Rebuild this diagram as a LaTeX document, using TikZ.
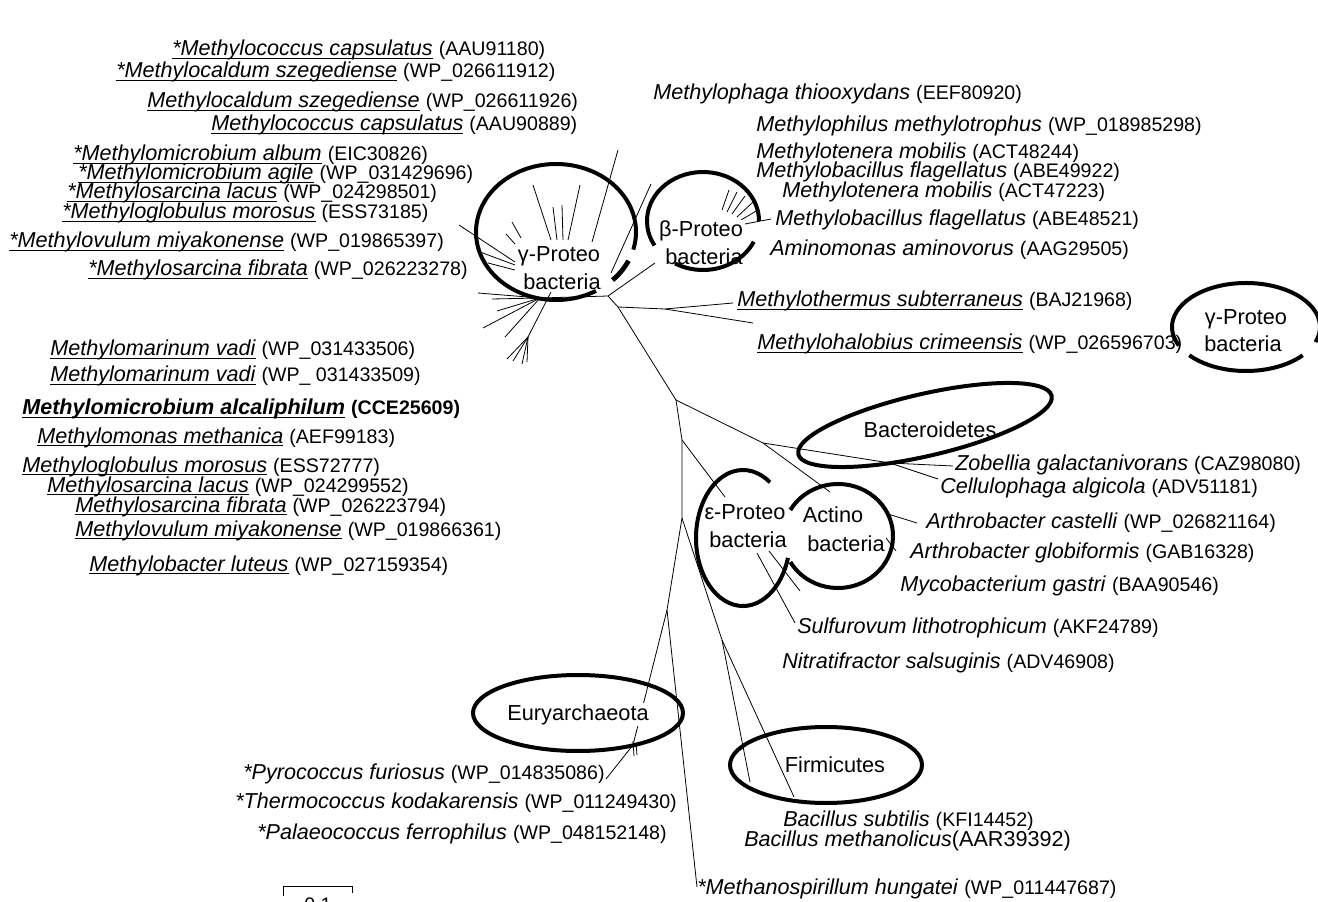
\documentclass[tikz,border=0pt]{standalone}
\usepackage{fontspec}
\setmainfont{Liberation Sans}
\newcommand\undl[1]{\sbox0{#1}\rlap{\rule[-2.4pt]{\wd0}{0.9pt}}\usebox0}
\newcommand\accn[1]{{\fontsize{14.7}{17}\selectfont #1}}
\tikzset{
  lbl/.style={anchor=base west, inner sep=0pt, font=\fontsize{16.2}{19}\selectfont},
  glab/.style={anchor=base, inner sep=1pt, fill=white, font=\fontsize{16.3}{19}\selectfont},
  grp/.style={line width=3pt},
  br/.style={line width=0.6pt},
}
\begin{document}
\begin{tikzpicture}[x=0.75pt,y=-0.75pt]
\useasboundingbox (0,0) rectangle (1318,902);
\clip (0,0) rectangle (1318,902);

% ---------------- tree: internal nodes ----------------
\coordinate (J) at (608,296);
\coordinate (N1) at (618,307);
\coordinate (P1) at (665,309);
\coordinate (A) at (676,400);
\coordinate (B) at (763,443);
\coordinate (Bz) at (890,463);
\coordinate (C) at (682,440);
\coordinate (D) at (682,518);
\coordinate (E) at (667,610);
\coordinate (Eu) at (633,745);
\coordinate (F) at (722,640);
\coordinate (G0) at (540,298);
\coordinate (G1) at (552,290);
\coordinate (G2) at (528,337);
\coordinate (bb) at (655,263);
% tips
\coordinate (tTh) at (733,303);
\coordinate (tHa) at (753,323);
\coordinate (tZo) at (953,466);
\coordinate (tCe) at (938,479);
\coordinate (tAc) at (830,492);
\coordinate (tEp) at (725,497);
\coordinate (tPy) at (606,779);
\coordinate (tMs) at (697,887);
\coordinate (tFa) at (750,782);
\coordinate (tFb) at (794,797);

\draw[br] (G0) -- (J) -- (N1) -- (A);
\draw[br] (J) -- (bb);
\draw[br] (N1) -- (P1) -- (tTh);
\draw[br] (P1) -- (tHa);
\draw[br] (A) -- (B) -- (Bz) -- (tZo);
\draw[br] (Bz) -- (tCe);
\draw[br] (B) -- (tAc);
\draw[br] (A) -- (C) -- (tEp);
\draw[br] (C) -- (D) -- (E) -- (Eu) -- (tPy);
\draw[br] (E) -- (tMs);
\draw[br] (D) -- (F) -- (tFa);
\draw[br] (F) -- (tFb);
\draw[br] (G1) -- (G2);

% gamma cluster inner leaves
\foreach \i/\ax/\ay/\bx/\by in {1/533/185/551/240, 2/553/207/557/240, 3/562/205/563/240,
  4/580/185/568/240, 5/618/150/592/242, 6/512/222/521/238, 7/506/234/515/244,
  8/459/225/515/262, 9/480/252/515/265, 10/488/263/515/270, 11/651/184/611/273}{
  \coordinate (gl\i a) at (\ax,\ay);
  \coordinate (gl\i b) at (\bx,\by);
  \draw[br] (gl\i a) -- (gl\i b);
}
% lower fan
\foreach \i/\ax/\ay in {1/478/293, 2/492/299, 3/497/311, 4/483/328, 5/505/337}{
  \coordinate (fl\i) at (\ax,\ay);
  \draw[br] (G0) -- (fl\i);
}
\foreach \i/\ax/\ay in {1/507/359, 2/513/361, 3/522/364, 4/527/362}{
  \coordinate (cl\i) at (\ax,\ay);
  \draw[br] (G2) -- (cl\i);
}
% beta inner leaves
\foreach \i/\ax/\ay/\bx/\by in {1/729/190/722/210, 2/737/192/727/212, 3/745/196/732/214,
  4/753/202/737/217, 5/758/210/741/220, 6/771/219/745/224}{
  \coordinate (bl\i a) at (\ax,\ay);
  \coordinate (bl\i b) at (\bx,\by);
  \draw[br] (bl\i a) -- (bl\i b);
}
% actino / epsilon / eury short leaves
\foreach \n/\ax/\ay/\bx/\by in {ac1/888/514/917/523, ac2/883/534/896/551,
  ep1/757/553/795/623, ep2/769/551/800/591, eu1/633/741/634/756, eu2/636/743/637/755}{
  \coordinate (\n a) at (\ax,\ay);
  \coordinate (\n b) at (\bx,\by);
  \draw[br] (\n a) -- (\n b);
}

% ---------------- group labels ----------------
\node[glab] (g1a) at (559,262) {γ-Proteo};
\node[glab] (g1b) at (562,290) {bacteria};
\node[glab] (g2a) at (701,237) {β-Proteo};
\node[glab] (g2b) at (704,265) {bacteria};
\node[glab] (g3a) at (1246,325) {γ-Proteo};
\node[glab] (g3b) at (1243,352) {bacteria};
\node[glab] (g4) at (930,437) {Bacteroidetes};
\node[glab] (g5a) at (745,519) {ε-Proteo};
\node[glab] (g5b) at (748,547) {bacteria};
\node[glab] (g6a) at (833,522) {Actino};
\node[glab] (g6b) at (846,551) {bacteria};
\node[glab] (g7) at (578,720) {Euryarchaeota};
\node[glab] (g8) at (835,772) {Firmicutes};

% ---------------- group outlines ----------------
\coordinate (cg) at (556,232);
\draw[grp] (cg) ++(60:80 and 68) arc[start angle=60, end angle=375, x radius=80, y radius=68];
\draw[grp, line width=3.6pt] (cg) ++(25:80 and 68) arc[start angle=25, end angle=45, x radius=80, y radius=68];
\coordinate (cb) at (703,221);
\draw[grp] (cb) ++(25:56 and 49) arc[start angle=25, end angle=120, x radius=56, y radius=49];
\draw[grp] (cb) ++(150:56 and 49) arc[start angle=150, end angle=360, x radius=56, y radius=49];
\coordinate (cg2) at (1246,327);
\draw[grp] (cg2) ++(155:74 and 44) arc[start angle=155, end angle=380, x radius=74, y radius=44];
\draw[grp] (cg2) ++(40:74 and 44) arc[start angle=40, end angle=140, x radius=74, y radius=44];
\coordinate (cbac) at (925,425);
\draw[grp, rotate around={13:(cbac)}] (cbac) ellipse [x radius=130, y radius=31];
\coordinate (ce) at (743,538);
\draw[grp] (ce) ++(17:47 and 68) arc[start angle=17, end angle=305, x radius=47, y radius=68];
\coordinate (ca) at (838,536);
\draw[grp] (ca) ++(210:55 and 52) arc[start angle=210, end angle=510, x radius=55, y radius=52];
\coordinate (ceu) at (578,713);
\draw[grp] (ceu) ellipse [x radius=105, y radius=38];
\coordinate (cf) at (826,765);
\draw[grp] (cf) ellipse [x radius=96, y radius=38];

% ---------------- leaf labels ----------------
\node[lbl] (t1) at (172,56) {\undl{\itshape *Methylococcus capsulatus} \accn{(AAU91180)}};
\node[lbl] (t2) at (116,78) {\undl{\itshape *Methylocaldum szegediense} \accn{(WP\_026611912)}};
\node[lbl] (t3) at (147,108) {\undl{\itshape Methylocaldum szegediense} \accn{(WP\_026611926)}};
\node[lbl] (t4) at (211,131) {\undl{\itshape Methylococcus capsulatus} \accn{(AAU90889)}};
\node[lbl] (t5) at (73,161) {\undl{\itshape *Methylomicrobium album} \accn{(EIC30826)}};
\node[lbl] (t6) at (78,180) {\undl{\itshape *Methylomicrobium agile} \accn{(WP\_031429696)}};
\node[lbl] (t7) at (67,199) {\undl{\itshape *Methylosarcina lacus} \accn{(WP\_024298501)}};
\node[lbl] (t8) at (62,219) {\undl{\itshape *Methyloglobulus morosus} \accn{(ESS73185)}};
\node[lbl] (t9) at (9,248) {\undl{\itshape *Methylovulum miyakonense} \accn{(WP\_019865397)}};
\node[lbl] (t10) at (88,276) {\undl{\itshape *Methylosarcina fibrata} \accn{(WP\_026223278)}};
\node[lbl] (t11) at (50,356) {\undl{\itshape Methylomarinum vadi} \accn{(WP\_031433506)}};
\node[lbl] (t12) at (50,382) {\undl{\itshape Methylomarinum vadi} \accn{(WP\_ 031433509)}};
\node[lbl] (t13) at (22,415) {\undl{\bfseries\itshape Methylomicrobium alcaliphilum} \accn{\bfseries(CCE25609)}};
\node[lbl] (t14) at (37,443) {\undl{\itshape Methylomonas methanica} \accn{(AEF99183)}};
\node[lbl] (t15) at (22,472) {\undl{\itshape Methyloglobulus morosus} \accn{(ESS72777)}};
\node[lbl] (t16) at (47,492) {\undl{\itshape Methylosarcina lacus} \accn{(WP\_024299552)}};
\node[lbl] (t17) at (75,512) {\undl{\itshape Methylosarcina fibrata} \accn{(WP\_026223794)}};
\node[lbl] (t18) at (75,536) {\undl{\itshape Methylovulum miyakonense} \accn{(WP\_019866361)}};
\node[lbl] (t19) at (89,571) {\undl{\itshape Methylobacter luteus} \accn{(WP\_027159354)}};

\node[lbl] (t20) at (653,100) {\textit{Methylophaga thiooxydans} \accn{(EEF80920)}};
\node[lbl] (t21) at (756,132) {\textit{Methylophilus methylotrophus} \accn{(WP\_018985298)}};
\node[lbl] (t22) at (756,159) {\textit{Methylotenera mobilis} \accn{(ACT48244)}};
\node[lbl] (t23) at (756,178) {\textit{Methylobacillus flagellatus} \accn{(ABE49922)}};
\node[lbl] (t24) at (782,198) {\textit{Methylotenera mobilis} \accn{(ACT47223)}};
\node[lbl] (t25) at (775,226) {\textit{Methylobacillus flagellatus} \accn{(ABE48521)}};
\node[lbl] (t26) at (770,256) {\textit{Aminomonas aminovorus} \accn{(AAG29505)}};
\node[lbl] (t27) at (737,307) {\undl{\itshape Methylothermus subterraneus} \accn{(BAJ21968)}};
\node[lbl] (t28) at (757,350) {\undl{\itshape Methylohalobius crimeensis} \accn{(WP\_026596703)}};
\node[lbl] (t29) at (955,470) {\textit{Zobellia galactanivorans} \accn{(CAZ98080)}};
\node[lbl] (t30) at (940,493) {\textit{Cellulophaga algicola} \accn{(ADV51181)}};
\node[lbl] (t31) at (926,528) {\textit{Arthrobacter castelli} \accn{(WP\_026821164)}};
\node[lbl] (t32) at (910,558) {\textit{Arthrobacter globiformis} \accn{(GAB16328)}};
\node[lbl] (t33) at (900,591) {\textit{Mycobacterium gastri} \accn{(BAA90546)}};
\node[lbl] (t34) at (797,633) {\textit{Sulfurovum lithotrophicum} \accn{(AKF24789)}};
\node[lbl] (t35) at (782,668) {\textit{Nitratifractor salsuginis} \accn{(ADV46908)}};
\node[lbl] (t36) at (243,779) {\textit{*Pyrococcus furiosus} \accn{(WP\_014835086)}};
\node[lbl] (t37) at (235,808) {\textit{*Thermococcus kodakarensis} \accn{(WP\_011249430)}};
\node[lbl] (t38) at (257,839) {\textit{*Palaeococcus ferrophilus} \accn{(WP\_048152148)}};
\node[lbl] (t39) at (783,826) {\textit{Bacillus subtilis} \accn{(KFI14452)}};
\node[lbl] (t40) at (744,846) {\textit{Bacillus methanolicus}(AAR39392)};
\node[lbl] (t41) at (697,894) {\textit{*Methanospirillum hungatei} \accn{(WP\_011447687)}};

% ---------------- scale bar ----------------
\coordinate (s1) at (283,896);
\coordinate (s2) at (283,886);
\coordinate (s3) at (352,886);
\coordinate (s4) at (352,893);
\draw[br] (s1) -- (s2) -- (s3) -- (s4);
\node[anchor=base, inner sep=0pt, font=\fontsize{14.7}{17}\selectfont] (sbl) at (318,911) {0.1};
\end{tikzpicture}
\end{document}
